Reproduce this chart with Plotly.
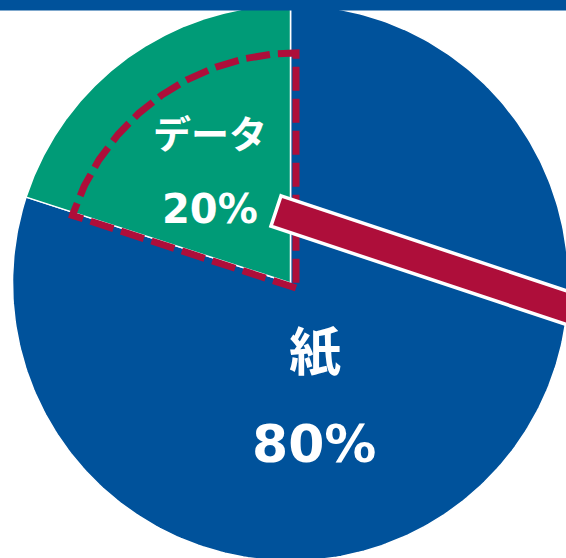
import numpy as np
import plotly.graph_objects as go

# ---- data ----
labels = ["紙", "データ"]
shares = [80, 20]
slice_colors = ["#00529B", "#009B77"]

# ---- layout geometry (pixels) ----
W, H = 566, 558
CX, CY, R = 290.5, 283.0, 278.0
ACCENT = "#AE0E3A"
FONT = "Verdana, 'DejaVu Sans', 'Noto Sans CJK JP', sans-serif"

fig = go.Figure()

total = sum(shares)
start = 0.0
spans = []
for lab, val, col in zip(labels, shares, slice_colors):
    span = val / total * 360.0
    spans.append((start, start + span))
    th = np.radians(np.linspace(start, start + span, 300))
    xs = [CX] + list(CX + R * np.sin(th)) + [CX]
    ys = [CY] + list(CY - R * np.cos(th)) + [CY]
    fig.add_trace(go.Scatter(x=xs, y=ys, mode="lines", fill="toself",
                             fillcolor=col, line=dict(color="white", width=1.5),
                             hoverinfo="skip", showlegend=False))
    start += span

# dashed outline of the smaller share (データ)
a0, a1 = spans[1]
DX, DY, R2 = CX + 5.5, CY + 5.0, 235.0
th = np.radians(np.linspace(a0, a1, 200))
xs = [DX] + list(DX + R2 * np.sin(th)) + [DX]
ys = [DY] + list(DY - R2 * np.cos(th)) + [DY]
fig.add_trace(go.Scatter(x=xs, y=ys, mode="lines",
                         line=dict(color=ACCENT, width=7, dash="24px,8px"),
                         hoverinfo="skip", showlegend=False))

# red pointer bar
ang = np.radians(18.4)
P0 = np.array([276.0, 211.0])
d = np.array([np.cos(ang), np.sin(ang)])
n = np.array([-np.sin(ang), np.cos(ang)])
hw, L = 16.0, 340.0
pts = [P0 - n * hw, P0 - n * hw + d * L, P0 + n * hw + d * L, P0 + n * hw]
path = "M " + " L ".join(f"{p[0]:.2f},{p[1]:.2f}" for p in pts) + " Z"
shapes = [
    dict(type="path", path=path, xref="x", yref="y", fillcolor=ACCENT,
         line=dict(color="white", width=3.5), layer="above"),
    dict(type="rect", xref="paper", x0=0, x1=1, yref="y", y0=0, y1=10.5,
         fillcolor="#00529B", line=dict(width=0), layer="above"),
]

pct = [f"{v / total * 100:.0f}%" for v in shares]
annotations = [
    dict(x=315, y=353, text=f"<b>{labels[0]}</b>", font=dict(size=52)),
    dict(x=314, y=444, text=f"<b>{pct[0]}</b>", font=dict(size=52)),
    dict(x=210, y=135, text=f"<b>{labels[1]}</b>", font=dict(size=38)),
    dict(x=210, y=209, text=f"<b>{pct[1]}</b>", font=dict(size=40)),
]
for a in annotations:
    a.update(xref="x", yref="y", showarrow=False, xanchor="center", yanchor="middle")
    a["font"].update(color="white", family=FONT)

fig.update_layout(
    width=W, height=H, margin=dict(l=0, r=0, t=0, b=0),
    paper_bgcolor="white", plot_bgcolor="white",
    xaxis=dict(range=[0, W], visible=False, fixedrange=True),
    yaxis=dict(range=[H, 0], visible=False, fixedrange=True),
    shapes=shapes, annotations=annotations, showlegend=False,
)

fig.write_html("out.html")
